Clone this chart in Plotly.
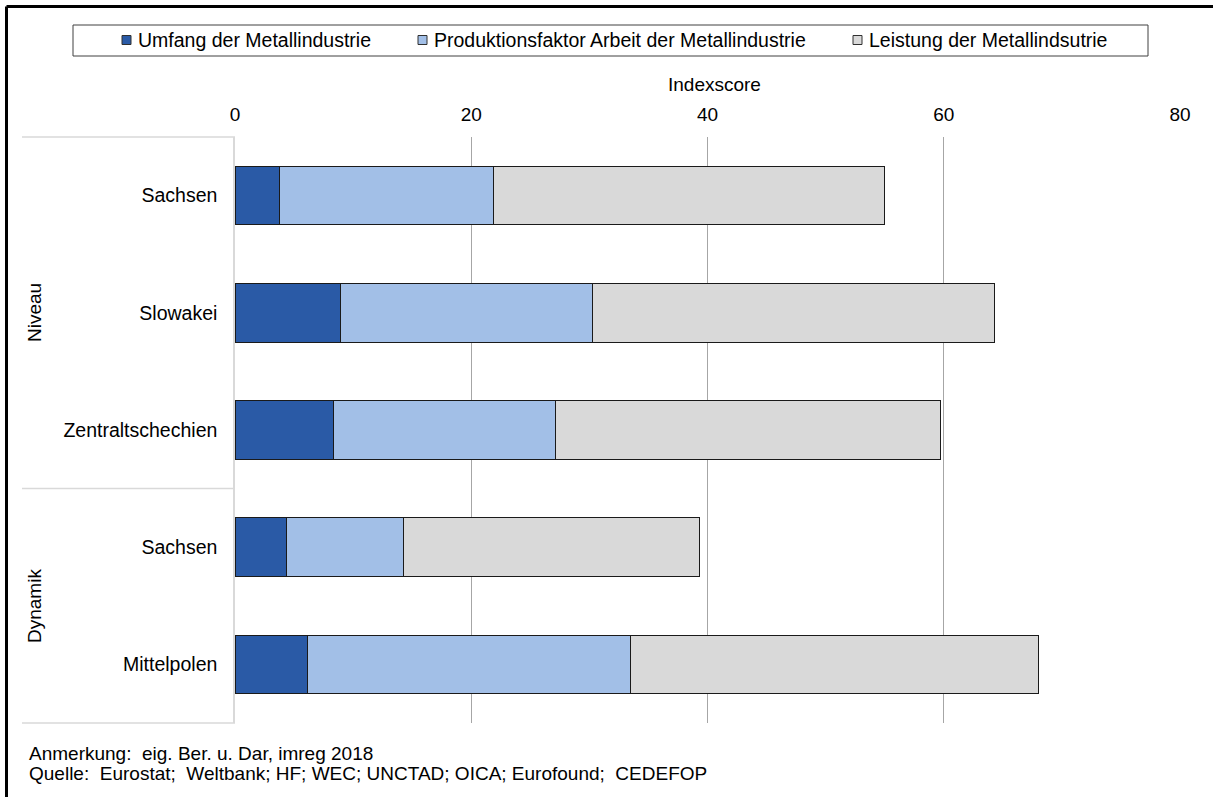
import plotly.graph_objects as go

# Regions (top to bottom) and their group
regions = ["Sachsen", "Slowakei", "Zentraltschechien", "Sachsen ", "Mittelpolen"]
groups = ["Niveau", "Niveau", "Niveau", "Dynamik", "Dynamik"]

# Index score components
umfang = [3.8, 8.9, 8.3, 4.4, 6.1]
produktionsfaktor = [18.1, 21.4, 18.8, 9.9, 27.4]
leistung = [33.1, 34.0, 32.6, 25.0, 34.5]

series_names = [
    "Umfang der Metallindustrie",
    "Produktionsfaktor Arbeit der Metallindustrie",
    "Leistung der Metallindsutrie",
]
series_values = [umfang, produktionsfaktor, leistung]
series_colors = ["#2A5AA6", "#A2BFE7", "#D9D9D9"]

x_ticks = [0, 20, 40, 60, 80]

FONT = "Liberation Sans, Arial, sans-serif"
FS = 19

# Plot area geometry (pixels)
W, H = 1213, 797
L, R, T, B = 235, 33, 137, 74
PW, PH = W - L - R, H - T - B


def px(x):
    return (x - L) / PW


def py(y):
    return 1 - (y - T) / PH


fig = go.Figure()
for name, vals, col in zip(series_names, series_values, series_colors):
    fig.add_trace(go.Bar(
        y=regions, x=vals, name=name, orientation="h",
        marker=dict(color=col, line=dict(color="#1a1a1a", width=1)),
        showlegend=False,
    ))

shapes = []
annotations = []

# Outer frame (top and left edges)
shapes.append(dict(type="line", xref="paper", yref="paper",
                   x0=px(6.5), x1=px(W + 2), y0=py(6.5), y1=py(6.5),
                   line=dict(color="black", width=3)))
shapes.append(dict(type="line", xref="paper", yref="paper",
                   x0=px(6.5), x1=px(6.5), y0=py(6.5), y1=py(H + 2),
                   line=dict(color="black", width=3)))

# Category-area separators
for yy in [137, 488.6, 723]:
    shapes.append(dict(type="line", xref="paper", yref="paper",
                       x0=px(22), x1=0, y0=py(yy), y1=py(yy),
                       line=dict(color="#D9D9D9", width=1.5)))

# Legend box
shapes.append(dict(type="rect", xref="paper", yref="paper",
                   x0=px(73), x1=px(1148), y0=py(25), y1=py(56),
                   line=dict(color="#404040", width=1), fillcolor="white"))
legend_marker_x = [122, 418, 853]
legend_text_x = [136, 432, 867]
for mx, tx, name, col in zip(legend_marker_x, legend_text_x, series_names, series_colors):
    shapes.append(dict(type="rect", xref="paper", yref="paper",
                       x0=px(mx), x1=px(mx + 9), y0=py(35.5), y1=py(44.5),
                       line=dict(color="#303030", width=1), fillcolor=col))
    annotations.append(dict(xref="paper", yref="paper", x=px(tx), y=py(40.5),
                            text=name, showarrow=False, xanchor="left", yanchor="middle",
                            font=dict(family=FONT, size=19.5, color="black")))

# Axis title
annotations.append(dict(xref="paper", yref="paper", x=px(714), y=py(84),
                        text="Indexscore", showarrow=False, xanchor="center", yanchor="middle",
                        font=dict(family=FONT, size=FS, color="black")))

# Group labels
for label, yc in [("Niveau", 313), ("Dynamik", 606)]:
    annotations.append(dict(xref="paper", yref="paper", x=px(34), y=py(yc),
                            text=label, showarrow=False, textangle=-90,
                            xanchor="center", yanchor="middle",
                            font=dict(family=FONT, size=FS, color="black")))

# Footnotes
annotations.append(dict(xref="paper", yref="paper", x=px(27), y=py(753),
                        text="Anmerkung:  eig. Ber. u. Dar, imreg 2018",
                        showarrow=False, xanchor="left", yanchor="middle",
                        font=dict(family=FONT, size=FS, color="black")))
annotations.append(dict(xref="paper", yref="paper", x=px(27), y=py(773),
                        text="Quelle:  Eurostat;  Weltbank; HF; WEC; UNCTAD; OICA; Eurofound;  CEDEFOP",
                        showarrow=False, xanchor="left", yanchor="middle",
                        font=dict(family=FONT, size=FS, color="black")))

fig.update_layout(
    width=W, height=H,
    margin=dict(l=L, r=R, t=T, b=B, pad=0),
    barmode="stack", bargap=0.5,
    paper_bgcolor="white", plot_bgcolor="white",
    font=dict(family=FONT, size=FS, color="black"),
    shapes=shapes, annotations=annotations,
    showlegend=False,
    xaxis=dict(
        side="top", range=[0, 80], tickvals=x_ticks,
        showgrid=True, gridcolor="#A6A6A6", gridwidth=1,
        zeroline=False, showline=False, ticks="",
        ticklabelstandoff=11,
        tickfont=dict(family=FONT, size=FS, color="black"),
        fixedrange=True,
    ),
    yaxis=dict(
        type="category", autorange="reversed",
        showline=True, linecolor="#D9D9D9", linewidth=1.5,
        showgrid=False, zeroline=False, ticks="",
        ticklabelstandoff=12,
        tickfont=dict(family=FONT, size=19.5, color="black"),
        tickmode="array", tickvals=regions, ticktext=[r.strip() for r in regions],
        fixedrange=True,
    ),
)

fig.write_html("out.html")
